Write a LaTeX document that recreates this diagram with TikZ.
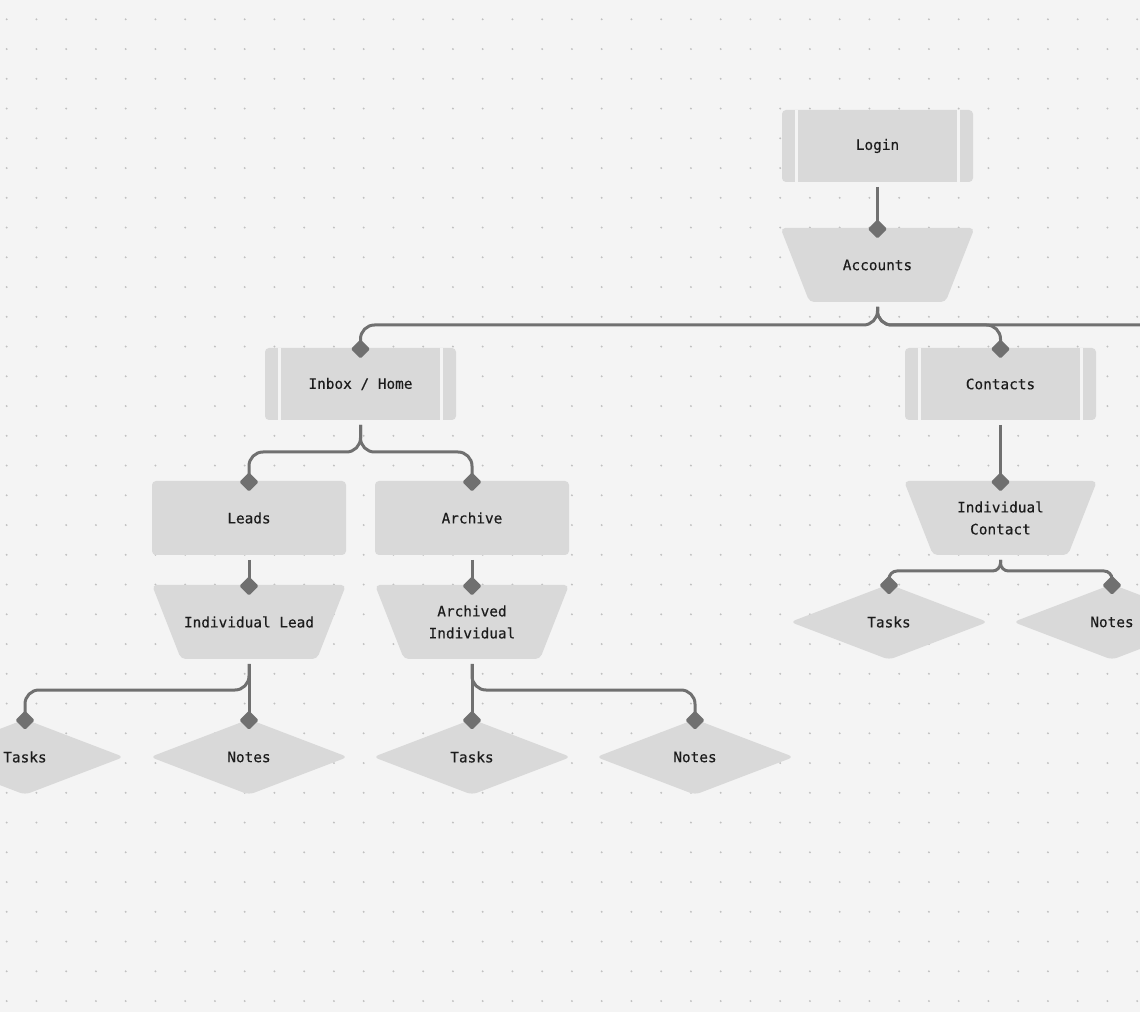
\documentclass[tikz,border=0pt]{standalone}
\usepackage{fontspec}
\newfontfamily\monolabel[FakeBold=0.35]{DejaVu Sans Mono}
\usetikzlibrary{arrows.meta, calc}
\definecolor{CanvasGray}{RGB}{244,244,244}
\definecolor{DotGray}{RGB}{192,192,192}
\definecolor{ShapeGray}{RGB}{217,217,217}
\definecolor{LinkGray}{RGB}{112,112,112}
\definecolor{InkDark}{RGB}{28,28,28}

\tikzset{
  box/.style={inner sep=0pt, outer sep=0pt, minimum width=145.5pt, minimum height=55.5pt,
    text=InkDark, align=center, font=\monolabel\fontsize{10.8pt}{16.5pt}\selectfont},
  plainbox/.style={box, fill=ShapeGray, rounded corners=3pt},
  procbox/.style={box, minimum width=143.25pt, minimum height=54pt, fill=ShapeGray, rounded corners=3pt,
    path picture={
      \fill[CanvasGray, sharp corners] ([xshift=10pt]path picture bounding box.north west) rectangle ([xshift=12.25pt]path picture bounding box.south west);
      \fill[CanvasGray, sharp corners] ([xshift=-12.25pt]path picture bounding box.north east) rectangle ([xshift=-10pt]path picture bounding box.south east);}},
  trapbox/.style={box, path picture={
      \fill[ShapeGray, rounded corners=3.5pt] (path picture bounding box.north west) -- (path picture bounding box.north east)
        -- ([xshift=-21.75pt]path picture bounding box.south east) -- ([xshift=21.75pt]path picture bounding box.south west) -- cycle;}},
  decbox/.style={box, minimum width=148pt, minimum height=56.5pt, path picture={
      \fill[ShapeGray, rounded corners=4pt] (path picture bounding box.west) -- (path picture bounding box.north)
        -- (path picture bounding box.east) -- (path picture bounding box.south) -- cycle;}},
  link/.style={draw=LinkGray, line width=2.25pt, rounded corners=10.5pt, shorten <=3.75pt, shorten >=-7.5pt,
    -{Diamond[length=14.5pt, width=14.5pt, round]}},
}

\begin{document}
\begin{tikzpicture}[x=0.75pt, y=-0.75pt]
    % Canvas
    \useasboundingbox (0,0) rectangle (1140,1012);
    \clip (0,0) rectangle (1140,1012);
    \fill[CanvasGray] (0,0) rectangle (1140,1012);

    % Dot grid
    \foreach \i in {0,...,38} {
      \foreach \j in {0,...,33} {
        \fill[DotGray] (6.7+\i*29.75, 19.3+\j*29.75) circle (0.8pt);
      }
    }

    % Screens
    \node[procbox] (login) at (877.5,146) {Login};
    \node[trapbox] (acc) at (877.5,265) {Accounts};

    \node[procbox] (inbox) at (360.5,384) {Inbox / Home};
    \node[procbox] (contacts) at (1000.5,384) {Contacts};

    \node[plainbox] (leads) at (249,518) {Leads};
    \node[plainbox] (archive) at (472,518) {Archive};
    \node[trapbox, minimum width=144.75pt] (contact) at (1000.5,518) {Individual\\Contact};

    \node[trapbox] (lead) at (249,622) {Individual Lead};
    \node[trapbox] (archived) at (472,622) {Archived\\Individual};
    \node[decbox] (tasksC) at (889,622) {Tasks};
    \node[decbox] (notesC) at (1112,622) {Notes};

    \node[decbox] (tasksA) at (25,757) {Tasks};
    \node[decbox] (notesA) at (249,757) {Notes};
    \node[decbox] (tasksB) at (472,757) {Tasks};
    \node[decbox] (notesB) at (695,757) {Notes};

    \coordinate (offright) at (1170,325);

    % Links
    \draw[link] (login.south) -- (acc.north);
    \draw[link] (acc.south) -- ++(0,23) -| (inbox.north);
    \draw[link] (acc.south) -- ++(0,23) -| (contacts.north);
    \draw[link, -, shorten >=0pt] (acc.south) -- ++(0,23) -- (offright);

    \draw[link] (inbox.south) -- ++(0,32) -| (leads.north);
    \draw[link] (inbox.south) -- ++(0,32) -| (archive.north);
    \draw[link] (contacts.south) -- (contact.north);

    \draw[link] (leads.south) -- (lead.north);
    \draw[link] (archive.south) -- (archived.north);
    \draw[link, rounded corners=6pt] (contact.south) -- ++(0,16) -| (tasksC.north);
    \draw[link, rounded corners=6pt] (contact.south) -- ++(0,16) -| (notesC.north);

    \draw[link] (lead.south) -- ++(0,31) -| (tasksA.north);
    \draw[link] (lead.south) -- (notesA.north);
    \draw[link] (archived.south) -- (tasksB.north);
    \draw[link] (archived.south) -- ++(0,31) -| (notesB.north);
\end{tikzpicture}
\end{document}
